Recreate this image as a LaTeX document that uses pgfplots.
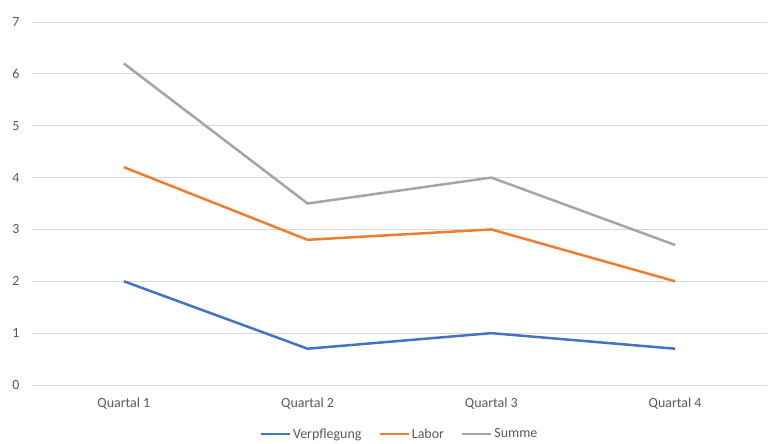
\documentclass[border=0pt]{standalone}
\usepackage{pgfplots}
\pgfplotsset{compat=1.18}
\usepackage{fontspec}
\setmainfont{Carlito}
\definecolor{cblue}{HTML}{4472C4}
\definecolor{corange}{HTML}{ED7D31}
\definecolor{cgray}{HTML}{A5A5A5}
\definecolor{tickgray}{HTML}{595959}
\definecolor{gridgray}{HTML}{D9D9D9}
\begin{document}
\begin{tikzpicture}
\begin{axis}[
  at={(0,0)}, anchor=south west,
  scale only axis,
  width=735bp, height=363bp,
  xmin=-0.5, xmax=3.5,
  ymin=0, ymax=7,
  ytick={0,1,...,7},
  xtick={0,1,2,3},
  xticklabels={Quartal 1,Quartal 2,Quartal 3,Quartal 4},
  axis line style={draw=none},
  axis x line*=bottom,
  ymajorgrids,
  grid style={gridgray, line width=0.75bp},
  major tick length=0pt,
  tick label style={font=\fontsize{14}{16}\selectfont, text=tickgray},
  /pgf/number format/assume math mode=true,
  yticklabel style={xshift=-9bp},
  xticklabel style={yshift=-9bp},
  legend style={at={(0.5,-0.135)}, anchor=center, draw=none, legend columns=3,
    font=\fontsize{14}{16}\selectfont, text=tickgray,
    /tikz/every even column/.append style={column sep=15bp},
    /tikz/every odd column/.append style={column sep=0bp}},
  legend image code/.code={\draw[#1, line width=2.5bp] (0bp,0bp) -- (29bp,0bp);},
  clip=false,
]
\addplot[cblue, line width=2.5bp] coordinates {(0,2) (1,0.7) (2,1) (3,0.7)};
\addlegendentry{Verpflegung}
\addplot[corange, line width=2.5bp] coordinates {(0,4.2) (1,2.8) (2,3) (3,2)};
\addlegendentry{Labor}
\addplot[cgray, line width=2.5bp] coordinates {(0,6.2) (1,3.5) (2,4) (3,2.7)};
\addlegendentry{Summe}
\end{axis}
\useasboundingbox (-32bp,-57bp) rectangle (741bp,385bp);
\end{tikzpicture}
\end{document}
